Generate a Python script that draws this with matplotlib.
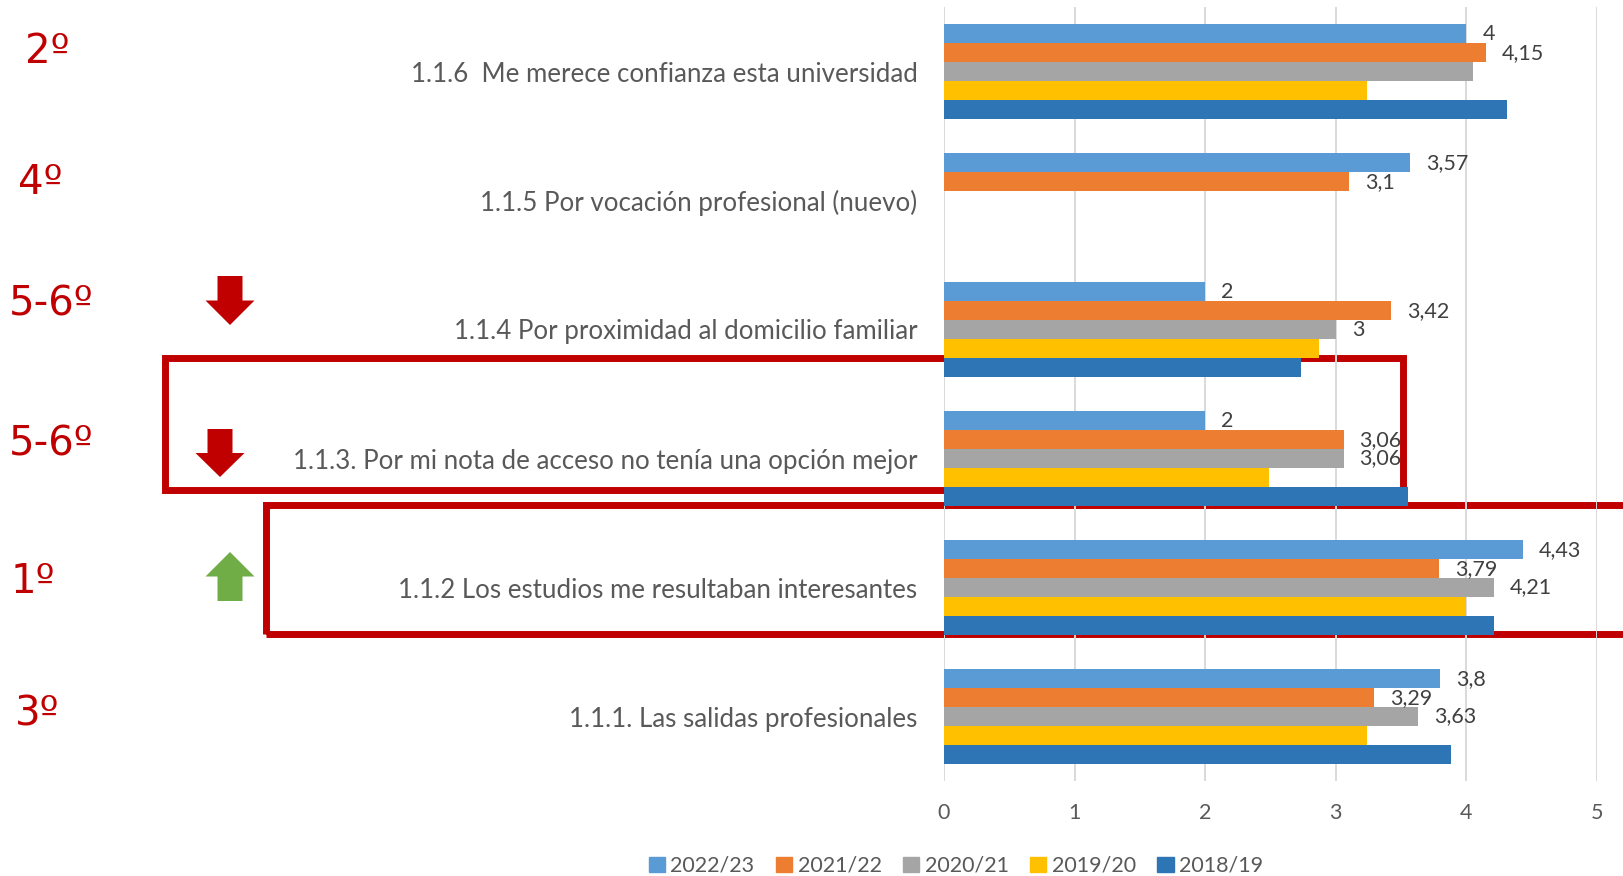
import numpy as np
import matplotlib
matplotlib.use("Agg")
import matplotlib.pyplot as plt
from matplotlib.patches import Rectangle, Polygon, Patch

# datos (de arriba a abajo)
categorias = [
    "1.1.6  Me merece confianza esta universidad",
    "1.1.5 Por vocación profesional (nuevo)",
    "1.1.4 Por proximidad al domicilio familiar",
    "1.1.3. Por mi nota de acceso no tenía una opción mejor",
    "1.1.2 Los estudios me resultaban interesantes",
    "1.1.1. Las salidas profesionales",
]
cursos = ["2022/23", "2021/22", "2020/21", "2019/20", "2018/19"]
v2223 = [4.00, 3.57, 2.00, 2.00, 4.43, 3.80]
v2122 = [4.15, 3.10, 3.42, 3.06, 3.79, 3.29]
v2021 = [4.05, np.nan, 3.00, 3.06, 4.21, 3.63]
v1920 = [3.24, np.nan, 2.87, 2.49, 4.00, 3.24]
v1819 = [4.31, np.nan, 2.73, 3.55, 4.21, 3.88]
# qué barras llevan etiqueta
etiq2223 = [True, True, True, True, True, True]
etiq2122 = [True, True, True, True, True, True]
etiq2021 = [False, False, True, True, True, True]
etiq_vacia = [False] * 6

ranking = ["2º", "4º", "5-6º", "5-6º", "1º", "3º"]

series = [v2223, v2122, v2021, v1920, v1819]
etiquetas = [etiq2223, etiq2122, etiq2021, etiq_vacia, etiq_vacia]
colores = ["#5B9BD5", "#ED7D31", "#A5A5A5", "#FFC000", "#2E75B6"]

W, H = 1623, 876
FONT = "Lato"
ROJO = "#C00000"
VERDE = "#70AD47"


def fx(px):
    return px / W


def fy(py):
    return 1 - py / H


fig = plt.figure(figsize=(W / 100, H / 100), dpi=100)
ax = fig.add_axes([fx(944), fy(781), fx(1597 - 944), (781 - 7) / H])
ax.patch.set_alpha(0)

y = np.arange(len(categorias))
h = 0.146
for j, (vals, col, etq) in enumerate(zip(series, colores, etiquetas)):
    pos = y + (j - 2) * h
    ax.barh(pos, vals, height=h, color=col, zorder=3)
    for p, v, e in zip(pos, vals, etq):
        if e and not np.isnan(v):
            ax.annotate(f"{v:g}".replace(".", ","), (v, p), xytext=(11.5, 0),
                        textcoords="offset points", va="center", ha="left",
                        fontsize=15.5, color="#404040", family=FONT, zorder=4)

ax.set_xlim(0, 5)
ax.set_ylim(len(categorias) - 0.5, -0.5)
ax.set_xticks(range(6))
ax.set_yticks(y)
ax.set_yticklabels(categorias, family=FONT, fontsize=18.6, color="#595959")
ax.tick_params(axis="y", length=0, pad=19)
ax.tick_params(axis="x", length=0, pad=16, labelsize=15.5, labelcolor="#595959")
for t in ax.get_xticklabels():
    t.set_family(FONT)
ax.grid(axis="x", color="#D9D9D9", lw=1.4, zorder=0)
ax.set_axisbelow(True)
for s in ax.spines.values():
    s.set_visible(False)

# leyenda
handles = [Patch(color=c, label=l) for c, l in zip(colores, cursos)]
fig.legend(handles=handles, loc="center", bbox_to_anchor=(fx(956), fy(866)),
           ncol=5, frameon=False, handlelength=0.75, handleheight=0.75,
           handletextpad=0.25, columnspacing=1.0,
           prop={"family": FONT, "size": 15.5}, labelcolor="#595959")

# posiciones del ranking (en píxeles)
rank_x = [25, 18, 9, 9, 11, 15]
rank_y = [52, 183, 305, 445, 582, 715]
for t, xx, yy in zip(ranking, rank_x, rank_y):
    fig.text(fx(xx), fy(yy), t, color=ROJO, fontsize=29, ha="left",
             va="center", family="DejaVu Sans")


def flecha(xc, y_cola, y_punta, color):
    # flecha gruesa tipo bloque
    ancho_cab, ancho_eje = 49, 25
    y_cab = (y_cola + y_punta) / 2
    pts = [(xc - ancho_eje / 2, y_cola), (xc + ancho_eje / 2, y_cola),
           (xc + ancho_eje / 2, y_cab), (xc + ancho_cab / 2, y_cab),
           (xc, y_punta), (xc - ancho_cab / 2, y_cab),
           (xc - ancho_eje / 2, y_cab)]
    pts = [(fx(a), fy(b)) for a, b in pts]
    fig.add_artist(Polygon(pts, closed=True, color=color,
                           transform=fig.transFigure, lw=0))


flecha(230, 276, 325, ROJO)
flecha(220, 429, 477, ROJO)
flecha(230, 601, 552, VERDE)

# recuadros rojos
for x0, y0, x1, y1 in [(164.5, 357.5, 1402.5, 490.5), (265.5, 504.5, 1660, 633.5)]:
    fig.add_artist(Rectangle((fx(x0), fy(y1)), fx(x1 - x0), (y1 - y0) / H,
                             fill=False, edgecolor=ROJO, lw=5,
                             transform=fig.transFigure, zorder=-1))

fig.savefig("out.png", dpi=100)
